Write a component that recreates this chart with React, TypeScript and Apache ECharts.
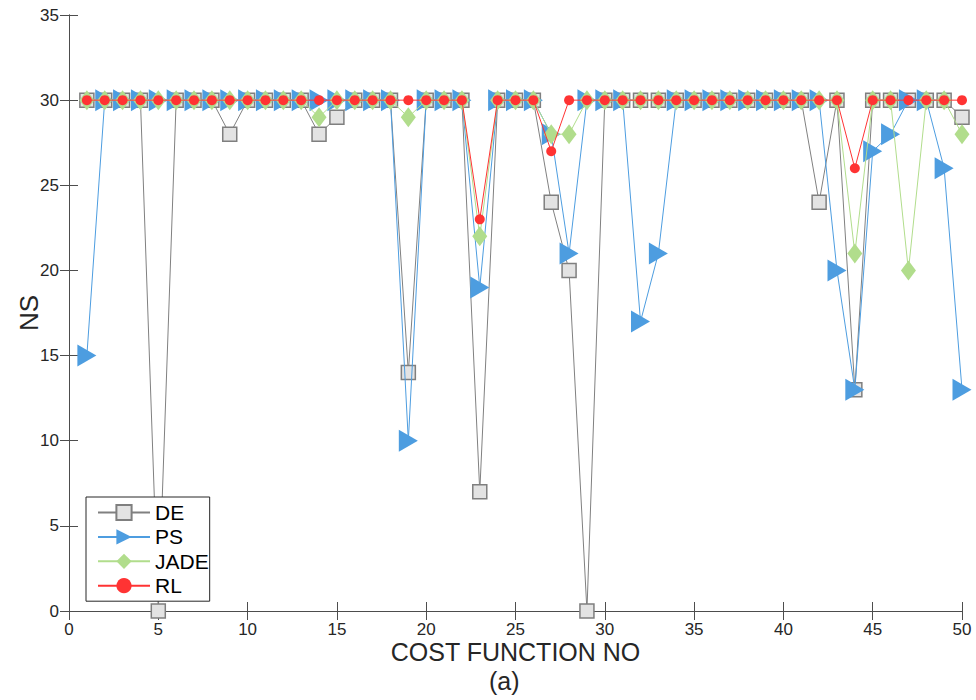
import React, { useEffect, useRef } from "react";
import * as echarts from "echarts";

const costFunctionNo = [
  1, 2, 3, 4, 5, 6, 7, 8, 9, 10, 11, 12, 13, 14, 15, 16, 17, 18, 19, 20, 21, 22, 23, 24, 25,
  26, 27, 28, 29, 30, 31, 32, 33, 34, 35, 36, 37, 38, 39, 40, 41, 42, 43, 44, 45, 46, 47, 48, 49, 50,
];

const deValues = [
  30, 30, 30, 30, 0, 30, 30, 30, 28, 30, 30, 30, 30, 28, 29, 30, 30, 30, 14, 30, 30, 30, 7, 30, 30,
  30, 24, 20, 0, 30, 30, 30, 30, 30, 30, 30, 30, 30, 30, 30, 30, 24, 30, 13, 30, 30, 30, 30, 30, 29,
];

const psValues = [
  15, 30, 30, 30, 30, 30, 30, 30, 30, 30, 30, 30, 30, 30, 30, 30, 30, 30, 10, 30, 30, 30, 19, 30, 30,
  30, 28, 21, 30, 30, 30, 17, 21, 30, 30, 30, 30, 30, 30, 30, 30, 30, 20, 13, 27, 28, 30, 30, 26, 13,
];

const jadeValues = [
  30, 30, 30, 30, 30, 30, 30, 30, 30, 30, 30, 30, 30, 29, 30, 30, 30, 30, 29, 30, 30, 30, 22, 30, 30,
  30, 28, 28, 30, 30, 30, 30, 30, 30, 30, 30, 30, 30, 30, 30, 30, 30, 30, 21, 30, 30, 20, 30, 30, 28,
];

const rlValues = [
  30, 30, 30, 30, 30, 30, 30, 30, 30, 30, 30, 30, 30, 30, 30, 30, 30, 30, 30, 30, 30, 30, 23, 30, 30,
  30, 27, 30, 30, 30, 30, 30, 30, 30, 30, 30, 30, 30, 30, 30, 30, 30, 30, 26, 30, 30, 30, 30, 30, 30,
];

const seriesNames = ["DE", "PS", "JADE", "RL"];
const xAxisTitle = "COST FUNCTION NO";
const yAxisTitle = "NS";
const subCaption = "(a)";

const FONT = "'Liberation Sans', Arial, Helvetica, sans-serif";
const TEXT = "#262626";
const AXIS = "#4d4d4d";

function pairs(vals: number[]) {
  return costFunctionNo.map((n, i) => [n, vals[i]]);
}

export default function App() {
  const ref = useRef<HTMLDivElement>(null);
  useEffect(() => {
    if (!ref.current) return;
    const chart = echarts.init(ref.current, null, { renderer: "svg" });
    const axisCommon = {
      axisLine: { show: true, lineStyle: { color: AXIS, width: 1 } },
      axisTick: { show: true, inside: true, length: 9, lineStyle: { color: AXIS } },
      splitLine: { show: false },
    };
    chart.setOption({
      animation: false,
      backgroundColor: "#ffffff",
      textStyle: { fontFamily: FONT, color: TEXT },
      grid: {
        left: 69,
        right: 14,
        top: 15,
        bottom: 89,
        containLabel: false,
        outerBoundsMode: "none",
      },
      legend: {
        orient: "vertical",
        left: 86,
        top: 497,
        data: seriesNames,
        itemWidth: 52,
        itemHeight: 19,
        itemGap: 3.4,
        padding: [5, 1, 5, 11],
        borderColor: "#262626",
        borderWidth: 1,
        backgroundColor: "#ffffff",
        textStyle: { fontFamily: FONT, fontSize: 21, color: "#000000" },
      },
      xAxis: [
        {
          type: "value",
          min: 0,
          max: 50,
          interval: 5,
          name: xAxisTitle,
          nameLocation: "middle",
          nameGap: 29,
          nameMoveOverlap: false,
          nameTextStyle: { fontFamily: FONT, fontSize: 25, lineHeight: 24, color: TEXT },
          axisLabel: { fontFamily: FONT, fontSize: 17, color: TEXT, margin: 10 },
          ...axisCommon,
        },
        {
          type: "value",
          position: "top",
          min: 0,
          max: 50,
          interval: 5,
          axisLabel: { show: false },
          ...axisCommon,
        },
      ],
      yAxis: [
        {
          type: "value",
          min: 0,
          max: 35,
          interval: 5,
          name: yAxisTitle,
          nameLocation: "middle",
          nameGap: 27,
          nameMoveOverlap: false,
          nameTextStyle: { fontFamily: FONT, fontSize: 26, color: TEXT },
          axisLabel: { fontFamily: FONT, fontSize: 17, color: TEXT, margin: 10 },
          ...axisCommon,
        },
        {
          type: "value",
          position: "right",
          min: 0,
          max: 35,
          interval: 5,
          axisLabel: { show: false },
          ...axisCommon,
        },
      ],
      graphic: [
        {
          type: "text",
          left: 489,
          top: 668,
          style: { text: subCaption, fontFamily: FONT, fontSize: 25, lineHeight: 25, fill: TEXT },
        },
      ],
      series: [
        {
          name: seriesNames[0],
          type: "line",
          data: pairs(deValues),
          symbol: "rect",
          symbolSize: 14,
          lineStyle: { color: "#808080", width: 1 },
          itemStyle: { color: "#e3e3e3", borderColor: "#7f7f7f", borderWidth: 1.5 },
          z: 2,
        },
        {
          name: seriesNames[1],
          type: "line",
          data: pairs(psValues),
          symbol: "triangle",
          symbolRotate: -90,
          symbolSize: [22, 19],
          lineStyle: { color: "#4d9de0", width: 1 },
          itemStyle: { color: "#4d9de0", borderWidth: 0 },
          z: 3,
        },
        {
          name: seriesNames[2],
          type: "line",
          data: pairs(jadeValues),
          symbol: "diamond",
          symbolSize: [15, 20],
          lineStyle: { color: "#b1dd8c", width: 1 },
          itemStyle: { color: "#b1dd8c", borderWidth: 0 },
          z: 4,
        },
        {
          name: seriesNames[3],
          type: "line",
          data: pairs(rlValues),
          symbol: "circle",
          symbolSize: 10,
          lineStyle: { color: "#ff3333", width: 1 },
          itemStyle: { color: "#ff3333", borderWidth: 0 },
          z: 5,
        },
      ],
    });
    return () => chart.dispose();
  }, []);
  return (
    <div
      ref={ref}
      style={{ position: "absolute", left: 0, top: 0, width: 976, height: 700, background: "#fff" }}
    />
  );
}
